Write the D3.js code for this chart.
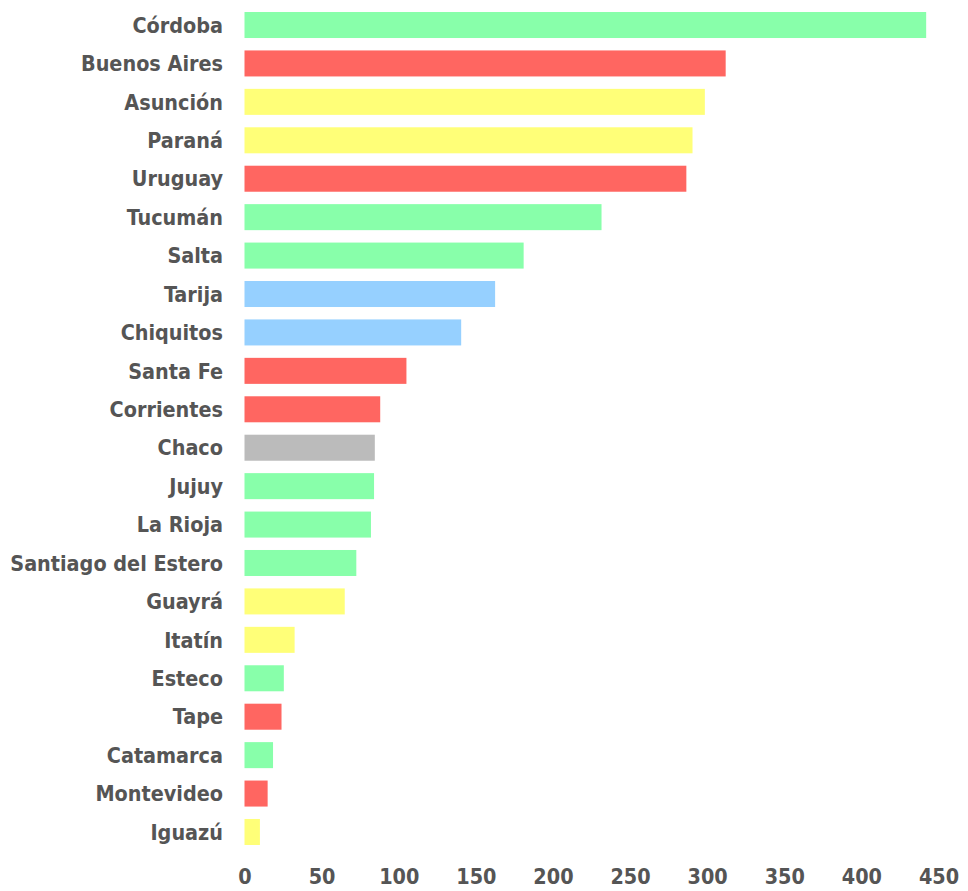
<!DOCTYPE html>
<html>
<head>
<meta charset="utf-8">
<script src="https://cdn.jsdelivr.net/npm/d3@7"></script>
<style>
  html, body { margin: 0; padding: 0; background: #fff; }
  svg text { font-family: "DejaVu Sans", Verdana, sans-serif; font-stretch: condensed; font-weight: bold; fill: #555555; }
</style>
</head>
<body>
<svg id="chart" width="968" height="891"></svg>
<script>
const categories = ["Córdoba","Buenos Aires","Asunción","Paraná","Uruguay","Tucumán","Salta","Tarija","Chiquitos","Santa Fe","Corrientes","Chaco","Jujuy","La Rioja","Santiago del Estero","Guayrá","Itatín","Esteco","Tape","Catamarca","Montevideo","Iguazú"];
const values = [442, 312, 298.5, 290.5, 286.5, 231.5, 181, 162.5, 140.5, 105, 88, 84.5, 84, 82, 72.5, 65, 32.5, 25.5, 24, 18.5, 15, 10];
const groups = ["green","red","yellow","yellow","red","green","green","blue","blue","red","red","grey","green","green","green","yellow","yellow","green","red","green","red","yellow"];
const tickValues = [0, 50, 100, 150, 200, 250, 300, 350, 400, 450];
const groupColors = { green: "#88ffaa", red: "#ff6661", yellow: "#ffff78", blue: "#96d0ff", grey: "#bbbbbb" };

const svg = d3.select("#chart");
const x = d3.scaleLinear().domain([0, 450]).range([244.5, 938.5]);
const y = d3.scaleBand().domain(categories).range([5.8, 851.2]).paddingInner(0.323).paddingOuter(0.1615);

svg.append("g").selectAll("rect")
  .data(categories)
  .join("rect")
  .attr("x", x(0))
  .attr("y", d => y(d))
  .attr("width", (d, i) => x(values[i]) - x(0))
  .attr("height", y.bandwidth())
  .attr("fill", (d, i) => groupColors[groups[i]]);

const yAxis = d3.axisLeft(y).tickSize(0).tickPadding(0);
const gy = svg.append("g").attr("transform", "translate(223,0)").call(yAxis);
gy.select(".domain").remove();
gy.selectAll("text").attr("font-size", 21.4).attr("font-family", null).attr("dy", "0.36em");

const xAxis = d3.axisBottom(x).tickValues(tickValues).tickSize(0).tickPadding(0).tickFormat(d3.format("d"));
const gx = svg.append("g").attr("transform", "translate(0,869)").call(xAxis);
gx.select(".domain").remove();
gx.selectAll("text").attr("font-size", 21.4).attr("font-family", null).attr("dy", "0.71em");
</script>
</body>
</html>
